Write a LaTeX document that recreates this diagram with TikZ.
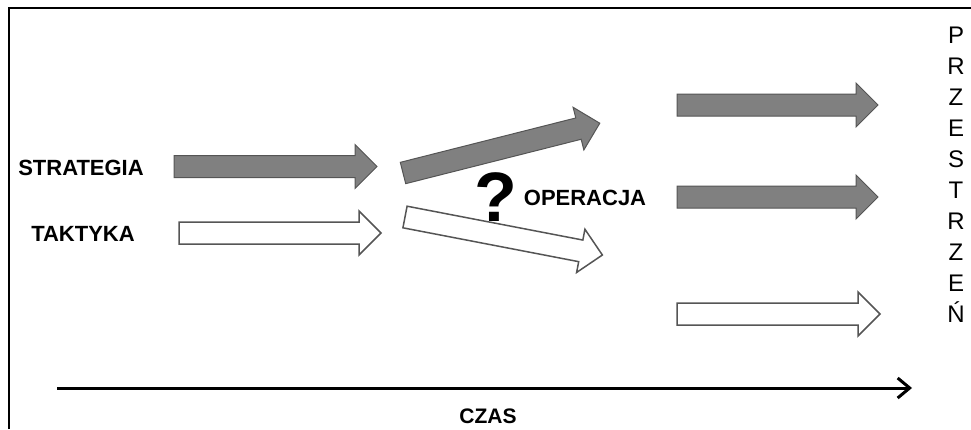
\documentclass[tikz,border=0pt]{standalone}
\usepackage{fontspec}
\setmainfont{Liberation Sans}
\usetikzlibrary{arrows.meta}
\definecolor{fillgray}{RGB}{128,128,128}
\definecolor{edgegray}{RGB}{85,85,85}
\tikzset{
  darkarrow/.style={fill=fillgray, draw=edgegray, line width=1pt},
  lightarrow/.style={fill=white, draw=edgegray, line width=1.5pt},
  boldtext/.style={font=\fontsize{22}{26}\selectfont\bfseries, inner sep=0pt},
  spaceletter/.style={font=\fontsize{24}{28}\selectfont, inner sep=0pt, anchor=base}
}
\newcommand{\blockarrow}[4]{%
  \draw[#1, shift={#2}, rotate=#3] (0, -11) -- ({#4 - 22}, -11) --
    ({#4 - 22}, -22) -- (#4, 0) -- ({#4 - 22}, 22) --
    ({#4 - 22}, 11) -- (0, 11) -- cycle;
}
\begin{document}
\begin{tikzpicture}[x=1pt, y=-1pt]
  \useasboundingbox (0, 0) rectangle (971, 429);
  \draw[line width=1.5pt] (9, 429) -- (9, 8) -- (971, 8);
  \node[boldtext] (strategia) at (81, 168) {STRATEGIA};
  \node[boldtext] (taktyka) at (83, 234) {TAKTYKA};
  \node[boldtext] (operacja) at (585, 198) {OPERACJA};
  \node[boldtext, font=\fontsize{70}{74}\selectfont\bfseries] (pytanie) at (496, 197) {?};
  \node[boldtext, font=\fontsize{21}{25}\selectfont\bfseries] (czas) at (488, 416) {CZAS};
  \blockarrow{darkarrow}{(174, 166.5)}{0}{203}
  \blockarrow{lightarrow}{(179, 233)}{0}{202}
  \blockarrow{darkarrow}{(403, 173)}{14.2}{203}
  \blockarrow{lightarrow}{(405, 217)}{-10.9}{201}
  \foreach \y in {105, 197} {
    \blockarrow{darkarrow}{(677, \y)}{0}{201}
  }
  \blockarrow{lightarrow}{(677, 314)}{0}{203}
  \coordinate (start) at (57, 388);
  \coordinate (end) at (912, 388);
  \draw[line width=3pt, -{Straight Barb[length=12pt, width=20pt]}] (start) -- (end);
  \foreach \c [count=\i from 0] in {P, R, Z, E, S, T, R, Z, E, Ń} {
    \node[spaceletter] (l\i) at (956, {43.5 + 31 * \i}) {\c};
  }
\end{tikzpicture}
\end{document}
